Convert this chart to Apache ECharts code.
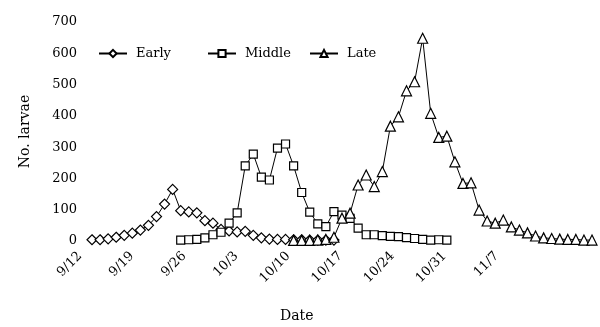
<!DOCTYPE html>
<html>
<head>
<meta charset="utf-8">
<script src="https://cdn.jsdelivr.net/npm/echarts@6/dist/echarts.min.js"></script>
<style>
  html, body { margin: 0; padding: 0; background: #fff; }
  #chart { width: 600px; height: 327px; }
</style>
</head>
<body>
<div id="chart"></div>
<script>
// tick labels on the date axis (one every 7 days, from 9/12)
const dateLabels = ['9/12', '9/19', '9/26', '10/3', '10/10', '10/17', '10/24', '10/31', '11/7']

// sampling occasions (63 samples)
const sampleCount = 63

// larvae counts per sample; start index = first sample of the series
const earlyStart = 0
const early = [4, 4, 7, 12, 18, 25, 35, 50, 78, 118, 165, 97, 93, 90, 65, 57, 37, 32, 29, 31, 18, 10, 6, 5, 5, 4, 4, 3, 3, 3, 3]
const middleStart = 11
const middle = [3, 4, 5, 10, 20, 28, 57, 90, 240, 278, 204, 195, 297, 310, 240, 155, 92, 55, 46, 94, 83, 72, 41, 20, 20, 17, 15, 14, 11, 8, 5, 3, 4, 3]
const lateStart = 25
const late = [2, 2, 2, 3, 5, 12, 73, 89, 179, 211, 174, 222, 367, 397, 480, 509, 648, 408, 331, 335, 253, 184, 186, 99, 64, 57, 67, 45, 35, 26, 16, 10, 8, 6, 5, 5, 3, 3]

const samples = []
for (let i = 0; i < sampleCount; i++) samples.push('S' + (i + 1))

const pad = (vals, start) => {
  const out = new Array(sampleCount).fill(null)
  vals.forEach((v, k) => { out[start + k] = v })
  return out
}

const font = 'DejaVu Serif'
const markSize = { diamond: 10, rect: 8, triangle: 10 }

const lineSeries = (name, symbol, data) => ({
  name: name,
  type: 'line',
  xAxisIndex: 0,
  yAxisIndex: 0,
  data: data,
  symbol: symbol,
  symbolSize: markSize[symbol],
  showAllSymbol: true,
  lineStyle: { color: '#000', width: 1 },
  itemStyle: { color: '#fff', borderColor: '#000', borderWidth: 1.2 },
  emphasis: { disabled: true },
  animation: false
})

const legendOf = (name, left) => ({
  data: [name],
  left: left,
  top: 47,
  padding: 0,
  itemWidth: 28,
  itemHeight: 9,
  textStyle: { fontFamily: font, fontSize: 13, color: '#000', padding: [0, 0, 0, 4] }
})

const chart = echarts.init(document.getElementById('chart'))

chart.setOption({
  animation: false,
  color: ['#000', '#000', '#000'],
  legend: [legendOf('Early', 98), legendOf('Middle', 207), legendOf('Late', 309)],
  grid: [
    { left: 92, right: 8, top: 22, bottom: 86 },
    { left: 80, width: 62 * 7.44, top: 22, bottom: 86 }
  ],
  xAxis: [
    {
      type: 'category',
      gridIndex: 0,
      data: samples,
      boundaryGap: false,
      axisLine: { show: false },
      axisTick: { show: false },
      axisLabel: { show: false }
    },
    {
      type: 'value',
      gridIndex: 1,
      min: 0,
      max: 62,
      interval: 7,
      axisLine: { show: false },
      axisTick: { show: false },
      splitLine: { show: false },
      axisLabel: {
        rotate: 45,
        margin: 13,
        fontFamily: font,
        fontSize: 13,
        color: '#000',
        formatter: v => (v % 7 === 0 ? (dateLabels[v / 7] || '') : '')
      }
    }
  ],
  yAxis: [
    {
      type: 'value',
      gridIndex: 0,
      min: 0,
      max: 700,
      interval: 100,
      axisLine: { show: false },
      axisTick: { show: false },
      splitLine: { show: false },
      axisLabel: { margin: 15, fontFamily: font, fontSize: 13, color: '#000' },
      name: 'No. larvae',
      nameLocation: 'middle',
      nameGap: 60,
      nameTextStyle: { fontFamily: font, fontSize: 14, color: '#000' }
    },
    {
      type: 'value',
      gridIndex: 1,
      show: false
    }
  ],
  graphic: [
    {
      type: 'text',
      left: 280,
      top: 309,
      style: { text: 'Date', font: '14px "DejaVu Serif"', fill: '#000' }
    }
  ],
  series: [
    lineSeries('Early', 'diamond', pad(early, earlyStart)),
    lineSeries('Middle', 'rect', pad(middle, middleStart)),
    lineSeries('Late', 'triangle', pad(late, lateStart))
  ]
})
</script>
</body>
</html>
